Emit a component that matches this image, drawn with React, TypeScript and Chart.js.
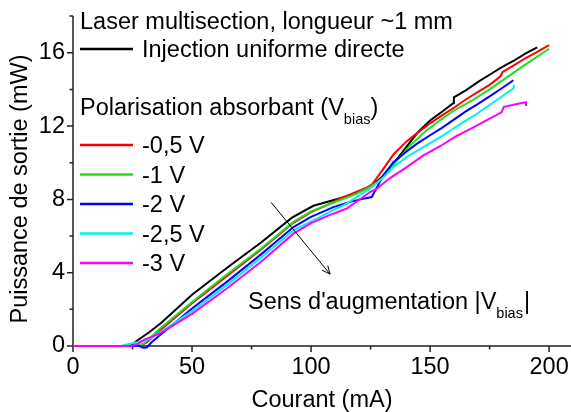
import React, { useEffect, useRef } from "react";
import { Chart, registerables } from "chart.js";

Chart.register(...registerables);

const FONT = '"Liberation Sans", Arial, sans-serif';
const FONT_SIZE = 23.5;
const SUB_SIZE = 14.5;

// Axis ranges / ticks
const xMin = 0;
const xMax = 209.2;
const xStep = 25;
const xLabelEvery = 50;
const yMin = 0;
const yMax = 18;
const yStep = 2;
const yLabelEvery = 4;

// Texts
const xTitle = "Courant (mA)";
const yTitle = "Puissance de sortie (mW)";
const headerText = "Laser multisection, longueur ~1 mm";
const refLabel = "Injection uniforme directe";
const biasHeader = "Polarisation absorbant (V";
const biasSub = "bias";
const biasClose = ")";
const arrowText = "Sens d'augmentation |V";
const arrowClose = "|";

// Reference curve: Injection uniforme directe
const refCurrent = [0, 24, 27, 32, 37, 50, 65, 79, 92, 101, 110, 116, 122, 126, 130, 135, 140, 145, 150, 155, 159.7, 160, 165, 170, 175, 180, 185, 190, 195];
const refPower = [0, 0, 0.3, 0.75, 1.25, 2.8, 4.3, 5.65, 7.0, 7.65, 7.98, 8.2, 8.5, 8.8, 9.25, 10.0, 10.85, 11.68, 12.3, 12.78, 13.25, 13.57, 13.95, 14.4, 14.8, 15.2, 15.55, 15.95, 16.3];

// Vbias = -0.5 V
const v05Current = [0, 28, 31, 37, 50, 65, 79, 92.6, 100, 106, 112, 118, 123, 125.5, 130, 134.6, 140, 144.4, 150, 155, 160, 165, 170, 175, 179.5, 180.5, 185, 190, 195, 200];
const v05Power = [0, 0, 0.2, 0.9, 2.33, 3.85, 5.27, 6.72, 7.3, 7.65, 8.04, 8.35, 8.62, 8.8, 9.6, 10.45, 11.15, 11.6, 12.15, 12.58, 13.0, 13.45, 13.85, 14.25, 14.7, 14.95, 15.3, 15.7, 16.05, 16.42];

// Vbias = -1 V
const v1Current = [0, 27, 30, 36.6, 50, 64.6, 79, 92.6, 100, 106, 112, 119, 125, 128, 131.8, 136, 141, 147.6, 154, 160, 167, 175, 180, 190, 200];
const v1Power = [0, 0, 0.15, 0.96, 2.4, 3.9, 5.32, 6.77, 7.35, 7.65, 7.95, 8.3, 8.7, 8.95, 9.4, 10.1, 10.85, 11.66, 12.3, 12.85, 13.35, 14.0, 14.45, 15.35, 16.22];

// Vbias = -2 V
const v2Current = [0, 28, 29.5, 31, 33, 36.6, 50, 64.6, 79, 92.6, 100, 109.4, 116, 122, 125.5, 130.4, 134.6, 140, 144.4, 150, 155, 160, 165, 170, 175, 180, 185];
const v2Power = [0, 0, -0.1, -0.08, 0.2, 0.6, 2.05, 3.5, 5.0, 6.49, 7.05, 7.58, 7.85, 8.04, 8.13, 9.31, 10.03, 10.6, 11.03, 11.5, 11.9, 12.35, 12.8, 13.2, 13.62, 14.05, 14.5];

// Vbias = -2.5 V
const v25Current = [0, 20, 23, 27, 30, 33, 36.6, 50, 64.6, 79, 92.6, 102.4, 110, 115, 120, 124.8, 130, 134.6, 140, 147.2, 155, 160, 165, 170, 175, 180, 185, 185.3];
const v25Power = [0, 0, 0.1, 0.2, 0.3, 0.45, 0.75, 1.9, 3.32, 4.82, 6.31, 6.95, 7.45, 7.77, 8.2, 8.58, 9.15, 9.76, 10.3, 10.85, 11.45, 11.88, 12.3, 12.7, 13.15, 13.6, 14.06, 14.25];

// Vbias = -3 V
const v3Current = [0, 24, 27, 30, 36.6, 50, 64.6, 79, 92.6, 100, 107, 115, 120, 124.8, 127.6, 133, 140.2, 147.2, 154.2, 161, 167, 175, 180, 181, 188, 190.3, 190.3];
const v3Power = [0, 0, 0.1, 0.35, 0.69, 1.75, 3.14, 4.6, 6.13, 6.7, 7.1, 7.5, 7.95, 8.4, 8.58, 9.15, 9.76, 10.4, 10.9, 11.45, 11.85, 12.4, 12.75, 13.05, 13.25, 13.3, 13.1];

const refColor = "#000000";
const seriesLabels = ["-0,5 V", "-1 V", "-2 V", "-2,5 V", "-3 V"];
const seriesColors = ["#ff0000", "#22dd22", "#0000ff", "#00f0f0", "#ff00ff"];
const seriesCurrents = [v05Current, v1Current, v2Current, v25Current, v3Current];
const seriesPowers = [v05Power, v1Power, v2Power, v25Power, v3Power];

// Arrow annotation (data coordinates)
const arrowFrom = { x: 83.2, y: 7.84 };
const arrowTo = { x: 108, y: 3.92 };
const arrowTextAt = { x: 73.5, y: 2.0 };

const toPoints = (xs: number[], ys: number[]) => xs.map((x, i) => ({ x, y: ys[i] }));

const font = (size: number) => `${size}px ${FONT}`;

const decorPlugin = {
  id: "decor",
  beforeDatasetsDraw(chart: any) {
    const { ctx, chartArea, scales } = chart;
    const xs = scales.x;
    const ys = scales.y;
    const x0 = xs.getPixelForValue(xMin);
    const y0 = ys.getPixelForValue(yMin);
    ctx.save();
    ctx.strokeStyle = "#222";
    ctx.lineWidth = 1.5;
    ctx.beginPath();
    ctx.moveTo(x0, ys.getPixelForValue(yMax));
    ctx.lineTo(x0, y0);
    ctx.moveTo(x0, y0);
    ctx.lineTo(chartArea.right, y0);
    for (const t of xs.ticks) {
      const px = xs.getPixelForValue(t.value);
      const len = t.value % xLabelEvery === 0 ? 6 : 3.5;
      ctx.moveTo(px, y0);
      ctx.lineTo(px, y0 + len);
    }
    for (const t of ys.ticks) {
      const py = ys.getPixelForValue(t.value);
      const len = t.value % yLabelEvery === 0 ? 6 : 3.5;
      ctx.moveTo(x0, py);
      ctx.lineTo(x0 - len, py);
    }
    ctx.stroke();
    ctx.restore();
  },
  afterDatasetsDraw(chart: any) {
    const { ctx, chartArea, scales } = chart;
    const xs = scales.x;
    const ys = scales.y;
    ctx.save();
    ctx.fillStyle = "#000";
    ctx.textAlign = "left";
    ctx.textBaseline = "alphabetic";
    ctx.font = font(FONT_SIZE);
    const left = chartArea.left + 7;
    const lineLen = 53;
    const textX = left + 62;
    const cap = FONT_SIZE * 0.358;

    // header
    ctx.fillText(headerText, left, 29);

    // reference legend row
    ctx.strokeStyle = refColor;
    ctx.lineWidth = 2.5;
    ctx.beginPath();
    ctx.moveTo(left, 49);
    ctx.lineTo(left + lineLen, 49);
    ctx.stroke();
    ctx.fillText(refLabel, textX, 49 + cap);

    // bias header with subscript
    let bx = left;
    const bBase = 115;
    ctx.fillText(biasHeader, bx, bBase);
    bx += ctx.measureText(biasHeader).width;
    ctx.font = font(SUB_SIZE);
    ctx.fillText(biasSub, bx, bBase + 9);
    bx += ctx.measureText(biasSub).width;
    ctx.font = font(FONT_SIZE);
    ctx.fillText(biasClose, bx, bBase);

    // series legend rows
    seriesLabels.forEach((lab, i) => {
      const ry = 145 + i * 29.5;
      ctx.strokeStyle = seriesColors[i];
      ctx.lineWidth = 2.5;
      ctx.beginPath();
      ctx.moveTo(left, ry);
      ctx.lineTo(left + lineLen, ry);
      ctx.stroke();
      ctx.fillText(lab, textX, ry + cap);
    });

    // arrow
    const ax1 = xs.getPixelForValue(arrowFrom.x);
    const ay1 = ys.getPixelForValue(arrowFrom.y);
    const ax2 = xs.getPixelForValue(arrowTo.x);
    const ay2 = ys.getPixelForValue(arrowTo.y);
    ctx.strokeStyle = "#000";
    ctx.lineWidth = 1;
    ctx.beginPath();
    ctx.moveTo(ax1, ay1);
    ctx.lineTo(ax2, ay2);
    const ang = Math.atan2(ay2 - ay1, ax2 - ax1);
    const hl = 9;
    const ha = 0.42;
    ctx.moveTo(ax2 - hl * Math.cos(ang - ha), ay2 - hl * Math.sin(ang - ha));
    ctx.lineTo(ax2, ay2);
    ctx.lineTo(ax2 - hl * Math.cos(ang + ha), ay2 - hl * Math.sin(ang + ha));
    ctx.stroke();

    // arrow text with subscript
    let tx = xs.getPixelForValue(arrowTextAt.x);
    const tBase = ys.getPixelForValue(arrowTextAt.y);
    ctx.font = font(FONT_SIZE);
    ctx.fillText(arrowText, tx, tBase);
    tx += ctx.measureText(arrowText).width;
    ctx.font = font(SUB_SIZE);
    ctx.fillText(biasSub, tx, tBase + 9);
    tx += ctx.measureText(biasSub).width + 1;
    ctx.font = font(FONT_SIZE);
    ctx.fillText(arrowClose, tx, tBase);

    // axis titles
    ctx.textAlign = "center";
    ctx.fillText(xTitle, (chartArea.left + chartArea.right) / 2, 407);
    ctx.save();
    ctx.translate(27, 189);
    ctx.rotate(-Math.PI / 2);
    ctx.fillText(yTitle, 0, 0);
    ctx.restore();

    ctx.restore();
  },
};

export default function App() {
  const ref = useRef<HTMLCanvasElement | null>(null);
  useEffect(() => {
    const canvas = ref.current;
    if (!canvas) return;
    const datasets: any[] = [
      {
        label: refLabel,
        data: toPoints(refCurrent, refPower),
        borderColor: refColor,
        borderWidth: 2,
        order: 6,
      },
      ...seriesLabels.map((lab, i) => ({
        label: lab,
        data: toPoints(seriesCurrents[i], seriesPowers[i]),
        borderColor: seriesColors[i],
        borderWidth: 2,
        order: 5 - i,
      })),
    ].map((d) => ({ ...d, pointRadius: 0, tension: 0, fill: false, clip: false }));

    const chart = new Chart(canvas, {
      type: "line",
      data: { datasets },
      options: {
        animation: false,
        responsive: false,
        maintainAspectRatio: false,
        parsing: true,
        layout: { padding: { top: 15, right: 0, left: 0, bottom: 0 } },
        plugins: {
          legend: { display: false },
          tooltip: { enabled: false },
          title: { display: false },
        },
        scales: {
          x: {
            type: "linear",
            min: xMin,
            max: xMax,
            afterFit: (s: any) => {
              s.height = 66;
            },
            grid: { display: false, drawTicks: true, tickLength: 6 },
            border: { display: false },
            ticks: {
              stepSize: xStep,
              includeBounds: false,
              autoSkip: false,
              maxRotation: 0,
              padding: 1,
              color: "#000",
              font: { family: FONT, size: FONT_SIZE },
              callback: (v: any) => (Number(v) % xLabelEvery === 0 ? String(v) : ""),
            },
          },
          y: {
            type: "linear",
            min: yMin,
            max: yMax,
            afterFit: (s: any) => {
              s.width = 73;
            },
            grid: { display: false, drawTicks: true, tickLength: 6 },
            border: { display: false },
            ticks: {
              stepSize: yStep,
              includeBounds: false,
              autoSkip: false,
              padding: 2,
              color: "#000",
              font: { family: FONT, size: FONT_SIZE },
              callback: (v: any) => (Number(v) % yLabelEvery === 0 ? String(v) : ""),
            },
          },
        },
      } as any,
      plugins: [decorPlugin],
    });
    return () => chart.destroy();
  }, []);

  return (
    <div style={{ position: "fixed", left: 0, top: 0, width: 571, height: 412, background: "#fff" }}>
      <canvas ref={ref} width={571} height={412} style={{ width: 571, height: 412, display: "block" }} />
    </div>
  );
}
